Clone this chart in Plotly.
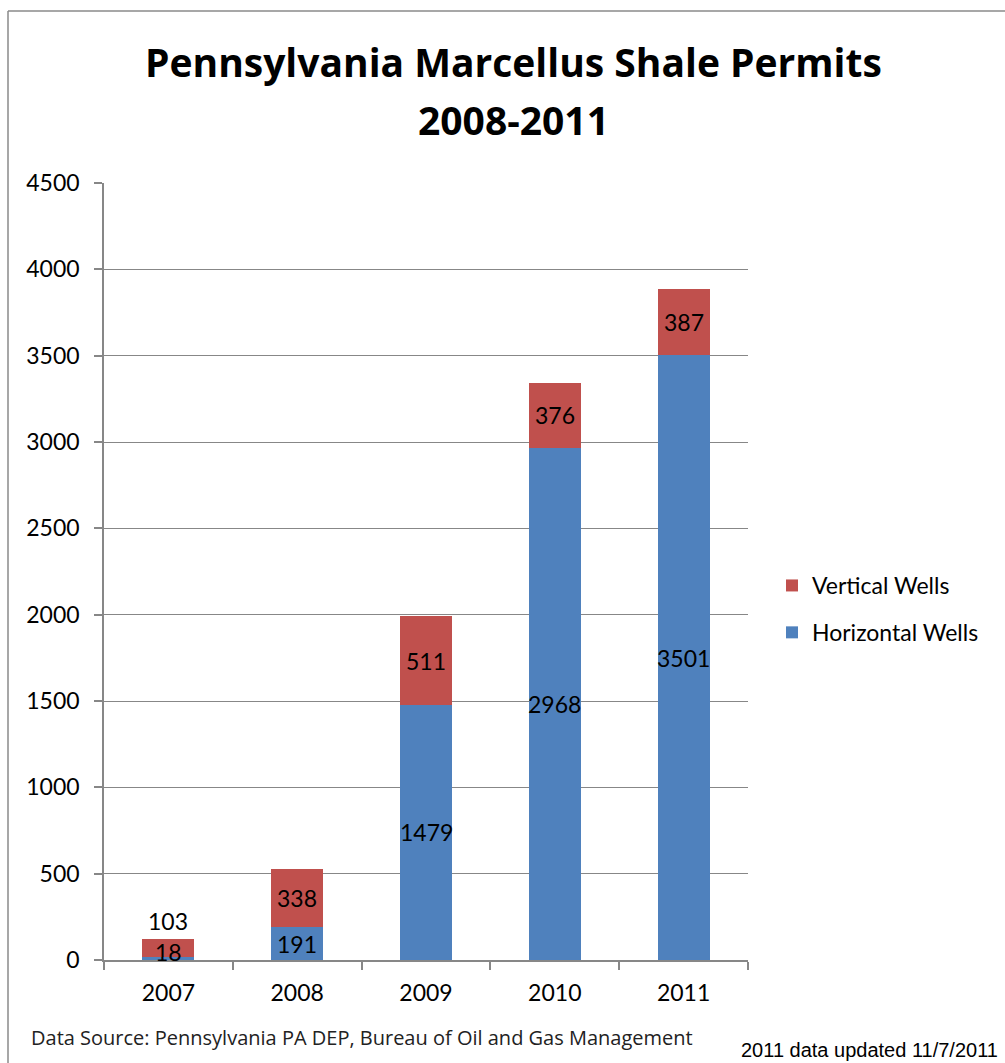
import plotly.graph_objects as go

years = ["2007", "2008", "2009", "2010", "2011"]
horizontal = [18, 191, 1479, 2968, 3501]
vertical = [103, 338, 511, 376, 387]
y_ticks = [0, 500, 1000, 1500, 2000, 2500, 3000, 3500, 4000, 4500]

BLUE = "#4F81BD"
RED = "#C0504D"
GRID = "#878787"
FONT = "Lato, 'Open Sans', sans-serif"

W, H = 1005, 1063
L, R, T, B = 104, 257, 183, 103

fig = go.Figure()
fig.add_trace(go.Bar(x=years, y=horizontal, name="Horizontal Wells",
                     legendgroup="h", legendrank=2,
                     marker=dict(color=BLUE, line=dict(width=0))))
fig.add_trace(go.Bar(x=years, y=vertical, name="Vertical Wells",
                     legendgroup="v", legendrank=1,
                     marker=dict(color=RED, line=dict(width=0))))

annotations = []
label_font = dict(family=FONT, size=23, color="black")
for i, yr in enumerate(years):
    h, v = horizontal[i], vertical[i]
    # category axis: annotations placed by category index
    if h + v < 300:
        # short bar: horizontal label sits mid-bar, vertical label above it
        annotations.append(dict(x=i, y=(h + v) / 2, text=str(h), showarrow=False,
                                font=label_font, yshift=-2))
        annotations.append(dict(x=i, y=h + v, text=str(v), showarrow=False,
                                font=label_font, yanchor="bottom", yshift=2))
    else:
        annotations.append(dict(x=i, y=h / 2, text=str(h), showarrow=False,
                                font=label_font))
        annotations.append(dict(x=i, y=h + v / 2, text=str(v), showarrow=False,
                                font=label_font))

pw, ph = W - L - R, H - T - B


def px_x(p):
    return (p - L) / pw


def px_y(p):
    return (H - B - p) / ph


TITLE_FONT = dict(family="'Open Sans', sans-serif", size=39, color="black")
annotations += [
    dict(xref="paper", yref="paper", x=px_x(513), y=px_y(62),
         text="<b>Pennsylvania Marcellus Shale Permits</b>", showarrow=False,
         font=TITLE_FONT, xanchor="center", yanchor="middle"),
    dict(xref="paper", yref="paper", x=px_x(513), y=px_y(120),
         text="<b>2008-2011</b>", showarrow=False,
         font=TITLE_FONT, xanchor="center", yanchor="middle"),
    dict(xref="paper", yref="paper", x=px_x(29), y=px_y(1037),
         text="Data Source: Pennsylvania PA DEP, Bureau of Oil and Gas Management",
         showarrow=False, font=dict(family="'Open Sans', sans-serif", size=20, color="#222222"),
         xanchor="left", yanchor="middle"),
    dict(xref="paper", yref="paper", x=px_x(1000), y=px_y(1050),
         text="2011 data updated 11/7/2011", showarrow=False,
         font=dict(family="'Liberation Sans', sans-serif", size=20, color="black"),
         xanchor="right", yanchor="middle"),
]

# outer chart frame (left and top edges)
shapes = [
    dict(type="line", xref="paper", yref="paper",
         x0=px_x(8), y0=px_y(11), x1=px_x(8), y1=px_y(H + 5),
         line=dict(color="#8a8a8a", width=1.5)),
    dict(type="line", xref="paper", yref="paper",
         x0=px_x(8), y0=px_y(11), x1=px_x(W + 5), y1=px_y(11),
         line=dict(color="#8a8a8a", width=1.5)),
]

fig.update_layout(
    width=W, height=H,
    margin=dict(l=L, r=R, t=T, b=B, pad=0),
    barmode="stack", bargap=0.595,
    plot_bgcolor="white", paper_bgcolor="white",
    font=dict(family=FONT, size=23, color="black"),
    showlegend=True,
    legend=dict(x=px_x(772), y=px_y(564), xanchor="left", yanchor="top",
                traceorder="grouped", font=dict(family=FONT, size=23),
                itemsizing="constant", tracegroupgap=14,
                bgcolor="rgba(0,0,0,0)"),
    annotations=annotations,
    shapes=shapes,
)
fig.update_xaxes(type="category", showline=True, linecolor=GRID, linewidth=1.5,
                 ticks="outside", tickson="boundaries", ticklen=8, tickcolor=GRID,
                 tickwidth=1.5, showgrid=False, tickfont=dict(family=FONT, size=23),
                 ticklabelstandoff=12)
fig.update_yaxes(range=[0, 4500], tickvals=y_ticks, showline=True, linecolor=GRID,
                 linewidth=1.5, ticks="outside", ticklen=8, tickcolor=GRID, tickwidth=1.5,
                 showgrid=True, gridcolor=GRID, gridwidth=1.2, zeroline=False,
                 tickfont=dict(family=FONT, size=23), ticklabelstandoff=10)

fig.write_html("out.html")
